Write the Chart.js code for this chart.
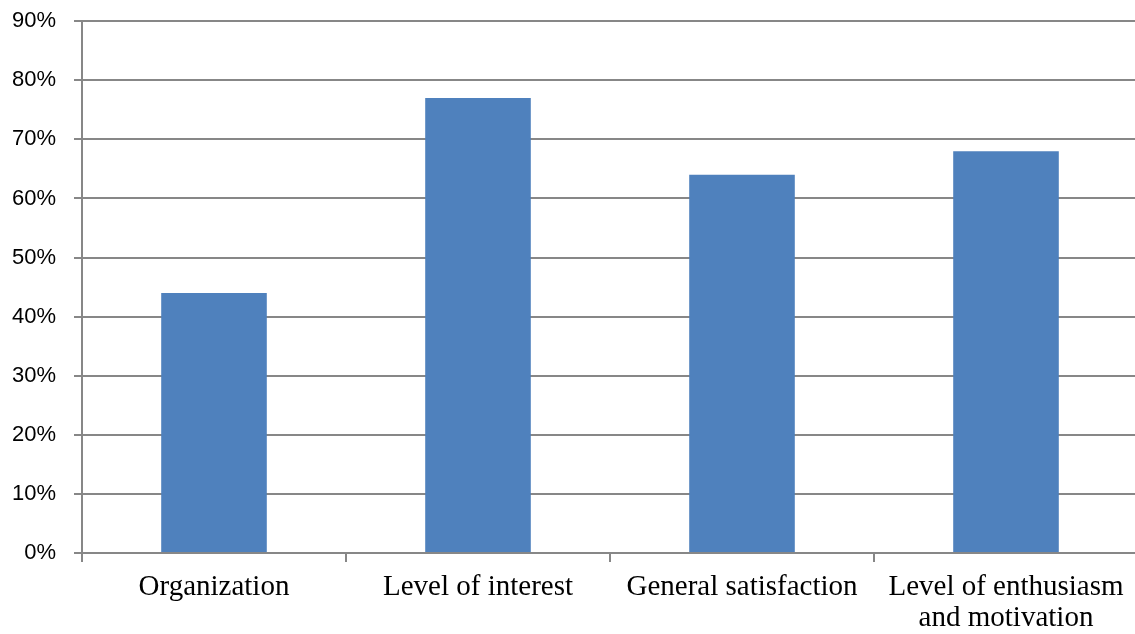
<!DOCTYPE html>
<html>
<head>
<meta charset="utf-8">
<script src="https://cdn.jsdelivr.net/npm/chart.js@4"></script>
<style>
  html, body { margin: 0; padding: 0; background: #fff; overflow: hidden; }
  #wrap { width: 1138px; height: 644px; margin-top: -10px; }
</style>
</head>
<body>
<div id="wrap"><canvas id="chart" width="1138" height="644"></canvas></div>
<script>
// ----------------------------------------------------------------------
// data
// ----------------------------------------------------------------------
const categories = [
  'Organization',
  'Level of interest',
  'General satisfaction',
  ['Level of enthusiasm', 'and motivation']
];
const values = [44, 77, 64, 68];
const yTicks = [0, 10, 20, 30, 40, 50, 60, 70, 80, 90];

const BAR = '#4f81bd';
const GRID = '#878787';

const ctx = document.getElementById('chart').getContext('2d');

new Chart(ctx, {
  type: 'bar',
  data: {
    labels: categories,
    datasets: [{
      data: values,
      backgroundColor: BAR,
      borderWidth: 0,
      categoryPercentage: 1,
      barPercentage: 0.4
    }]
  },
  options: {
    responsive: false,
    animation: false,
    layout: { padding: 0 },
    plugins: {
      legend: { display: false },
      tooltip: { enabled: false }
    },
    scales: {
      x: {
        offset: true,
        grid: {
          offset: true,
          drawOnChartArea: false,
          drawTicks: true,
          tickLength: 9,
          color: GRID,
          lineWidth: 2
        },
        border: { display: true, color: GRID, width: 2 },
        ticks: {
          color: '#000',
          padding: 10,
          maxRotation: 0,
          autoSkip: false,
          font: { family: '"Liberation Serif", "Times New Roman", serif', size: 29, lineHeight: 1.06 }
        },
        afterFit: s => { s.height = 81; }
      },
      y: {
        min: 0,
        max: 90,
        afterBuildTicks: s => { s.ticks = yTicks.map(v => ({ value: v })); },
        grid: {
          color: GRID,
          lineWidth: 2,
          drawTicks: true,
          tickLength: 8
        },
        border: { display: true, color: GRID, width: 2 },
        ticks: {
          color: '#000',
          padding: 18,
          callback: v => v + '%',
          font: { family: '"Liberation Sans", Arial, sans-serif', size: 22 }
        },
        afterFit: s => { s.width = 82; }
      }
    }
  }
});
</script>
</body>
</html>
